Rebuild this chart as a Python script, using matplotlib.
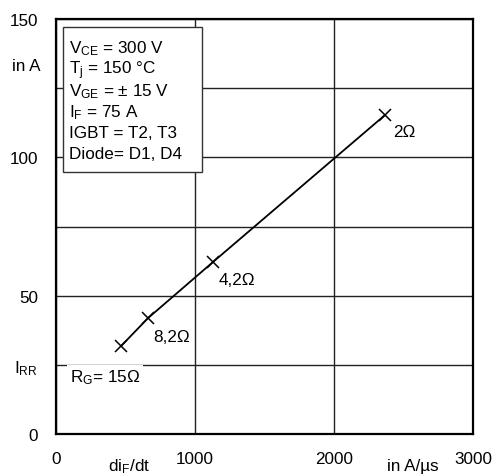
import matplotlib.pyplot as plt
import matplotlib.patches as patches
from matplotlib.transforms import blended_transform_factory

plt.rcParams["font.family"] = ["Liberation Sans", "DejaVu Sans"]
plt.rcParams["mathtext.fontset"] = "custom"
plt.rcParams["mathtext.rm"] = "Liberation Sans"
plt.rcParams["mathtext.it"] = "Liberation Sans"

# readings from the curve: dI_F/dt in A/us vs I_RR in A
di_dt = [468, 662, 1130, 2367]
i_rr = [31.8, 41.9, 62.2, 115.3]
rg_labels = ["R$_\\mathrm{G}$= 15\u03a9", "8,2\u03a9", "4,2\u03a9", "2\u03a9"]
label_pos = [(100, 20.6), (698, 35.4), (1173, 56.0), (2424, 109.5)]

x_ticks = [0, 1000, 2000, 3000]
y_ticks = [0, 25, 50, 75, 100, 125, 150]
y_tick_labels = ["0", "I$_\\mathrm{RR}$", "50", "", "100", "", "150"]

info_lines = [
    "V$_\\mathrm{CE}$ = 300 V",
    "T$_\\mathrm{j}$ = 150 \u00b0C",
    "V$_\\mathrm{GE}$ = \u00b1 15 V",
    "I$_\\mathrm{F}$ = 75 A",
    "IGBT = T2, T3",
    "Diode= D1, D4",
]

FS = 12.3

fig = plt.figure(figsize=(4.97, 4.77), dpi=100)
ax = fig.add_axes([0.1127, 0.088, 0.839, 0.870])

ax.plot(di_dt, i_rr, color="black", lw=1.3, marker="x", ms=8, mew=1.1, zorder=4)

ax.set_xlim(0, 3000)
ax.set_ylim(0, 150)
ax.set_xticks(x_ticks)
ax.set_xticklabels([str(v) for v in x_ticks])
ax.set_yticks(y_ticks)
ax.set_yticklabels(y_tick_labels)
ax.tick_params(length=0, labelsize=FS, pad=12)
ax.tick_params(axis="y", pad=13)
ax.grid(True, color="#222222", lw=1.0)
ax.set_axisbelow(True)
for sp in ax.spines.values():
    sp.set_linewidth(1.6)

for (lx, ly), txt in zip(label_pos, rg_labels):
    if txt.startswith("R"):
        ax.text(lx, ly, txt, fontsize=FS, va="center", ha="left", zorder=3,
                bbox=dict(facecolor="white", edgecolor="none", pad=2))
    else:
        ax.text(lx, ly, txt, fontsize=FS, va="center", ha="left", zorder=5)

# axis unit labels
tr = blended_transform_factory(ax.transData, ax.transAxes)
ax.text(525, -0.077, "di$_\\mathrm{F}$/dt", transform=tr, fontsize=FS,
        ha="center", va="center")
ax.text(2570, -0.077, "in A/\u00b5s", transform=tr, fontsize=FS,
        ha="center", va="center")
ax.text(-0.038, 0.887, "in A", transform=ax.transAxes, fontsize=FS,
        ha="right", va="center")

# parameter box
box = patches.Rectangle((0.017, 0.631), 0.333, 0.35, transform=ax.transAxes,
                        facecolor="white", edgecolor="#333333", lw=1.0, zorder=3)
ax.add_patch(box)
for k, line in enumerate(info_lines):
    ax.text(0.03, 0.93 - k * 0.051, line, transform=ax.transAxes, fontsize=FS,
            ha="left", va="center", zorder=4)

fig.savefig("out.png", dpi=100)
